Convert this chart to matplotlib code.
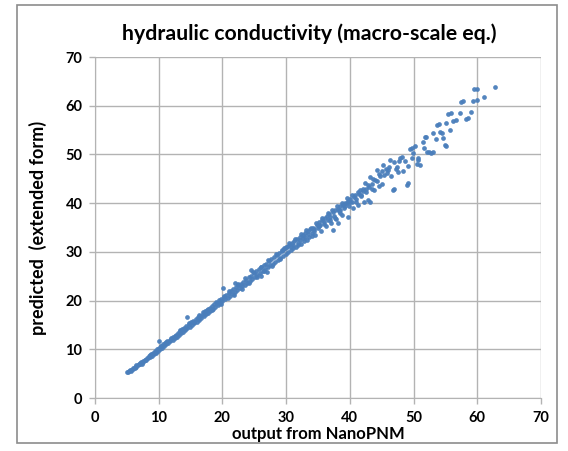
"""
Scatter of predicted vs NanoPNM hydraulic conductivity.
"""
import matplotlib
matplotlib.use('Agg')
import matplotlib.pyplot as plt
from matplotlib.patches import Rectangle

plt.rcParams['font.family'] = ['Lato', 'DejaVu Sans']

TITLE = 'hydraulic conductivity (macro-scale eq.)'
XLABEL = 'output from NanoPNM'
YLABEL = 'predicted  (extended form)'
TICKS = [0, 10, 20, 30, 40, 50, 60, 70]

# points, low end
x_low = [5.0, 5.2, 5.4, 5.5, 5.7, 5.9, 6.0, 6.2, 6.4, 6.5, 6.7, 6.9, 7.0, 7.2, 7.3,
         7.5, 7.6, 7.8, 8.0, 8.1, 8.3, 8.4, 8.6, 8.8, 8.9, 9.1, 9.2, 9.4, 9.6, 9.7,
         9.9, 10.0, 10.2, 10.1, 10.4, 10.5, 10.7, 10.9, 11.0, 11.2, 11.3, 11.5, 11.7,
         11.8, 12.0, 12.2, 12.3, 12.5, 12.7, 12.8, 13.0, 13.2, 13.3, 13.5, 13.7, 13.8,
         14.0, 14.2, 14.3, 14.4, 14.5, 14.7, 14.9, 15.0,
         5.6, 6.3, 7.1, 7.9, 8.7, 9.5, 10.3, 11.1, 11.9, 12.6, 13.4, 14.1, 14.8, 15.5,
         16.2]
y_low = [5.3, 5.4, 5.5, 5.7, 5.8, 5.9, 6.2, 6.3, 6.4, 6.7, 6.8, 6.9, 7.2, 7.3, 7.0,
         7.6, 7.4, 7.9, 7.8, 8.3, 8.2, 8.6, 8.5, 9.0, 8.7, 9.3, 9.0, 9.6, 9.4, 10.0,
         9.7, 10.3, 10.0, 11.7, 10.6, 10.3, 11.0, 10.6, 11.3, 11.0, 11.6, 11.3, 12.0,
         11.6, 12.3, 12.0, 12.6, 12.3, 13.0, 12.6, 13.3, 12.9, 13.7, 13.3, 14.1, 13.6,
         14.4, 14.0, 14.8, 16.7, 14.3, 15.1, 14.6, 15.5,
         5.5, 6.1, 6.9, 7.7, 8.8, 9.2, 10.7, 11.5, 12.1, 12.8, 13.9, 14.2, 15.3, 15.5,
         16.3]

# middle part of the band
x_mid = [15.2, 15.4, 15.6, 15.8, 16.0, 16.1, 16.3, 16.5, 16.7, 16.9, 17.1, 17.2, 17.4,
         17.6, 17.8, 18.0, 18.1, 18.3, 18.5, 18.7, 18.9, 19.1, 19.3, 19.5, 19.6, 19.8,
         20.0, 20.1, 20.2, 20.4, 20.6, 20.8, 21.0, 21.2, 21.4, 21.6, 21.7, 21.9, 22.1,
         22.3, 22.5, 22.7, 22.9, 23.1, 23.3, 23.5, 23.7, 23.9, 24.1, 24.3, 24.5, 24.7,
         24.9, 25.1, 25.3, 25.5, 25.7, 25.9, 26.1, 26.3, 26.5, 26.7, 26.9, 27.1, 27.3,
         27.5, 27.7, 27.9, 28.1, 28.3, 28.5, 28.7, 28.9, 29.1, 29.3, 29.5, 29.7, 29.9,
         24.5, 27.0, 22.0, 26.0,
         16.4, 17.0, 17.7, 18.4, 19.0, 19.7, 20.3, 21.1, 21.8, 22.4, 23.0, 23.6, 24.2,
         24.8, 25.4, 26.0, 26.6, 27.2, 27.8, 28.4, 29.0, 29.6, 29.4, 30.0]
y_mid = [15.0, 15.8, 15.3, 16.2, 15.7, 16.6, 16.0, 16.9, 16.4, 17.3, 16.8, 17.8, 17.2,
         18.0, 17.5, 18.5, 17.8, 18.9, 18.2, 19.2, 18.7, 19.6, 19.1, 20.1, 19.5, 20.4,
         19.9, 22.5, 20.8, 20.3, 21.2, 20.6, 21.6, 21.0, 22.0, 21.3, 22.4, 21.7, 22.7,
         22.1, 23.2, 22.5, 23.5, 22.9, 23.9, 23.2, 24.3, 23.7, 24.8, 24.1, 25.1, 24.4,
         25.6, 24.9, 26.0, 25.2, 26.4, 25.7, 26.8, 26.1, 27.3, 26.5, 27.6, 26.8, 28.1,
         27.3, 28.5, 27.6, 28.9, 28.0, 29.4, 28.4, 29.8, 28.8, 30.1, 29.2, 30.5, 29.6,
         26.3, 25.9, 23.6, 25.0,
         17.0, 17.6, 18.3, 18.0, 19.8, 19.2, 21.0, 21.9, 21.2, 23.3, 22.4, 24.6, 23.6,
         25.9, 24.8, 26.9, 26.0, 28.3, 27.1, 29.5, 28.5, 30.8, 30.4, 30.9]

# upper part, where the band widens
x_high = [30.1, 30.3, 30.5, 30.7, 30.9, 31.1, 31.1, 31.3, 31.5, 31.7, 31.9, 32.1, 32.2,
          32.4, 32.6, 32.8, 33.0, 33.0, 33.2, 33.4, 33.6, 33.8, 34.0, 34.0, 34.2, 34.4,
          34.6, 34.8, 35.0, 35.2, 35.3, 35.5, 35.7, 35.9, 36.1, 36.2, 36.4, 36.6, 36.8,
          36.9, 37.1, 37.3, 37.4, 37.5, 37.7, 37.9, 38.1, 38.2, 38.3, 38.5, 38.5, 38.7,
          38.9, 39.1, 39.3, 39.5, 39.7, 39.7, 39.9, 40.1, 40.3, 40.5, 40.7, 40.8, 41.0,
          41.2, 41.4, 41.6, 41.8, 42.0, 42.2, 42.4, 42.6, 42.9, 43.0, 43.2, 43.2, 43.5,
          43.8, 44.0, 44.2, 44.5, 44.8, 45.0,
          30.4, 30.8, 31.4, 31.8, 32.3, 32.7, 33.1, 33.5, 33.9, 34.3, 34.7, 35.1, 35.6,
          36.0, 36.5, 36.9, 37.2, 37.6, 38.0, 38.4, 38.8, 39.2, 39.6, 40.0, 40.4, 40.9,
          41.3, 41.7, 42.1, 42.5, 42.8, 43.4, 43.7, 44.3, 44.6]
y_high = [31.0, 30.0, 31.4, 30.3, 31.8, 30.7, 31.4, 32.2, 31.0, 32.6, 31.4, 33.0, 32.4,
          31.7, 33.5, 32.2, 33.1, 33.9, 32.5, 34.2, 33.0, 34.6, 33.8, 33.3, 35.0, 34.2,
          33.5, 35.6, 34.8, 36.2, 35.5, 34.3, 36.6, 35.7, 37.0, 35.4, 37.3, 36.6, 37.7,
          37.2, 36.0, 38.1, 34.5, 37.4, 38.5, 36.8, 38.9, 35.9, 38.3, 38.6, 39.4, 37.6,
          39.7, 39.0, 40.1, 40.0, 37.2, 40.5, 39.4, 40.9, 40.3, 39.0, 41.3, 41.7, 40.8,
          39.6, 41.9, 42.7, 41.4, 42.4, 40.2, 44.1, 42.9, 40.6, 43.3, 45.4, 40.3, 44.0,
          42.6, 44.7, 46.8, 43.6, 45.6, 44.0,
          31.8, 30.9, 32.7, 31.9, 33.6, 32.8, 34.4, 33.6, 35.0, 34.6, 36.0, 35.3, 36.9,
          36.2, 37.9, 36.5, 38.5, 37.0, 39.4, 37.9, 40.0, 39.5, 41.0, 40.2, 41.7, 40.3,
          42.3, 41.7, 43.0, 42.2, 43.8, 43.0, 45.0, 44.6, 46.0]

# scattered clusters at the top end
x_top = [45.2, 45.4, 45.8, 46.0, 46.3, 46.5, 46.8, 47.0, 47.2, 47.4, 47.6, 47.9, 48.2,
         48.4, 48.6, 48.9, 49.1, 49.1, 49.4, 49.7, 49.8, 49.9, 50.2, 50.5, 50.7, 50.7,
         51.0, 51.5, 51.6, 51.8, 52.0, 52.1, 52.5, 52.8, 53.0, 53.1, 53.5, 53.7, 54.0,
         54.2, 54.4, 54.6, 54.9, 55.1, 55.1, 55.4, 55.7, 55.9, 56.2, 56.6, 57.3, 57.4,
         57.7, 58.2, 58.6, 59.0, 59.3, 59.5, 59.9, 60.0, 61.1, 62.8,
         45.1, 45.6, 46.2, 47.0, 47.7]
y_top = [47.8, 45.8, 46.1, 46.8, 48.9, 45.6, 42.7, 42.9, 47.0, 47.5, 46.4, 49.2, 49.5,
         46.7, 48.6, 43.7, 44.1, 47.7, 51.1, 51.3, 49.3, 50.2, 51.7, 48.0, 48.9, 49.3,
         47.8, 52.6, 51.3, 53.6, 53.6, 50.6, 50.4, 50.2, 50.4, 54.4, 53.2, 56.0, 56.2,
         54.7, 54.3, 53.4, 51.9, 51.8, 56.4, 58.3, 55.0, 58.5, 56.9, 57.1, 58.6, 60.8,
         60.9, 57.3, 57.4, 58.8, 61.0, 63.4, 63.5, 61.2, 61.8, 63.9,
         46.5, 47.0, 47.4, 48.4, 48.6]

GRID = '#b3b3b3'
BLUE = '#4a7ebb'


def plot_scatter(output_filename):
    fig = plt.figure(figsize=(5.68, 4.51), dpi=100)
    fig.patches.append(Rectangle((17 / 568, 8 / 451), 540 / 568, 438 / 451,
                                 transform=fig.transFigure, fill=False,
                                 edgecolor='#8c8c8c', linewidth=1.2))
    ax = fig.add_axes([95 / 568, 53 / 451, 446 / 568, 341 / 451])
    for xs, ys in [(x_low, y_low), (x_mid, y_mid), (x_high, y_high), (x_top, y_top)]:
        ax.plot(xs, ys, 'o', color=BLUE, markersize=3.4, markeredgewidth=0,
                alpha=0.95, zorder=3)
    ax.set_xlim(0, 70)
    ax.set_ylim(0, 70)
    ax.set_xticks(TICKS)
    ax.set_yticks(TICKS)
    ax.grid(True, color=GRID, linewidth=1.0)
    ax.set_axisbelow(True)
    for side in ['top', 'right']:
        ax.spines[side].set_visible(False)
    for side in ['left', 'bottom']:
        ax.spines[side].set_color(GRID)
    ax.tick_params(direction='out', length=4, color=GRID, width=1.0,
                   labelsize=10.5, pad=5)
    for lab in ax.get_xticklabels() + ax.get_yticklabels():
        lab.set_fontweight('bold')
    ax.set_xlabel(XLABEL, fontsize=12, fontweight='bold', labelpad=1)
    ax.set_ylabel(YLABEL, fontsize=13, fontweight='bold', labelpad=13)
    fig.text(309 / 568, 1 - 34 / 451, TITLE, ha='center', va='center',
             fontsize=15.3, fontweight='bold')
    fig.savefig(output_filename, dpi=100)


if __name__ == "__main__":
    plot_scatter('out.png')
